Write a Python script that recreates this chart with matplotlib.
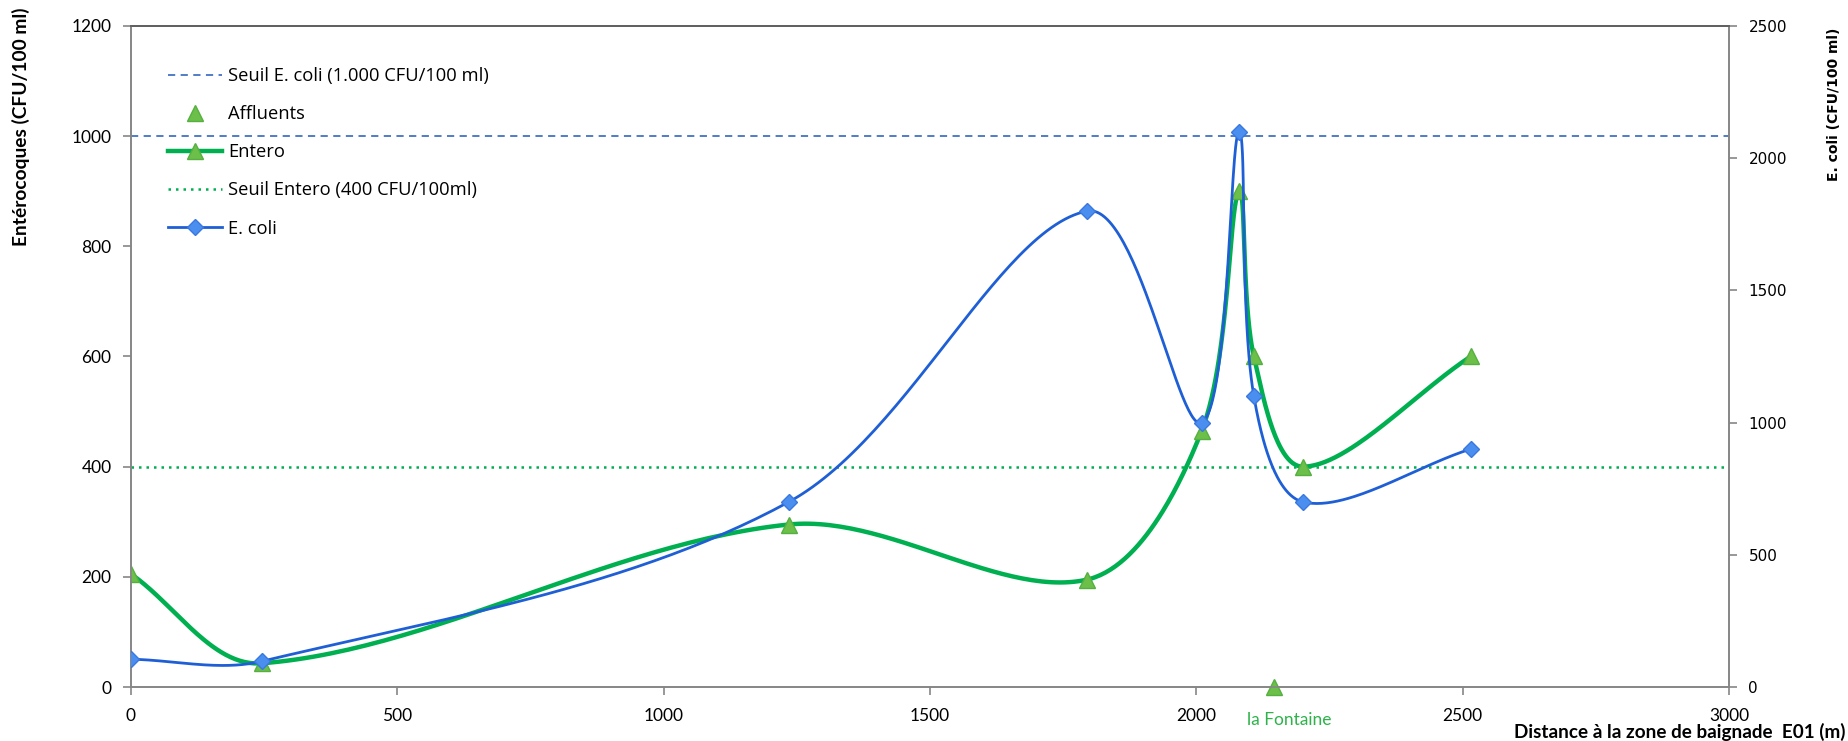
import numpy as np
import matplotlib.pyplot as plt
from matplotlib.lines import Line2D

# Data
distance = [0, 245, 1235, 1795, 2010, 2080, 2108, 2200, 2515]
entero = [205, 43, 295, 195, 465, 900, 600, 400, 600]
ecoli = [105, 97, 700, 1800, 1000, 2100, 1100, 700, 900]

affluent_x = [2145]
affluent_y = [0]
affluent_name = ["la Fontaine"]

seuil_ecoli = 1000   # drawn on left axis, as in the original
seuil_entero = 400

x_ticks = [0, 500, 1000, 1500, 2000, 2500, 3000]
left_ticks = [0, 200, 400, 600, 800, 1000, 1200]
right_ticks = [0, 500, 1000, 1500, 2000, 2500]

GREEN = "#00B050"
GREEN_FILL = "#6CC04A"
BLUE = "#1F5FD6"
BLUE_FILL = "#4A8FF0"
DASH_BLUE = "#4472C4"
AXIS_GREY = "#868686"


def smooth(x, y, sx, sy, n=60):
    # Bezier smoothing like a spreadsheet "smoothed line", tangents weighted by
    # segment length in screen space
    p = np.column_stack([np.asarray(x, float) * sx, np.asarray(y, float) * sy])
    out = []
    m = len(p)
    t = np.linspace(0, 1, n)[:, None]
    for i in range(m - 1):
        p0 = p[i - 1] if i > 0 else p[i]
        p1, p2 = p[i], p[i + 1]
        p3 = p[i + 2] if i + 2 < m else p[i + 1]
        d01 = np.hypot(*(p1 - p0))
        d12 = np.hypot(*(p2 - p1))
        d23 = np.hypot(*(p3 - p2))
        c1 = p1 + (p2 - p0) * d12 / (3 * (d01 + d12))
        c2 = p2 - (p3 - p1) * d12 / (3 * (d12 + d23))
        seg = (1 - t) ** 3 * p1 + 3 * (1 - t) ** 2 * t * c1 + 3 * (1 - t) * t ** 2 * c2 + t ** 3 * p2
        out.append(seg if i == 0 else seg[1:])
    s = np.vstack(out)
    return s[:, 0] / sx, s[:, 1] / sy


fig = plt.figure(figsize=(18.49, 7.41), dpi=100)
W, H = 1849, 741
ax = fig.add_axes([131 / W, 1 - 687 / H, 1598 / W, 661 / H])
ax2 = ax.twinx()

# pixels per data unit, for smoothing in screen space
sx = 1598 / 3000
sy_left = 661 / 1200
sy_right = 661 / 2500

ax.set_xlim(0, 3000)
ax.set_ylim(0, 1200)
ax2.set_ylim(0, 2500)

# thresholds
ax.axhline(seuil_ecoli, color=DASH_BLUE, lw=1.3, ls=(0, (4, 3)), zorder=1)
ax.axhline(seuil_entero, color=GREEN, lw=1.8, ls=(0, (1, 2)), zorder=1)

# Entero
ex, ey = smooth(distance, entero, sx, sy_left)
ax.plot(ex, ey, color=GREEN, lw=3.2, solid_capstyle="round", zorder=3)
ax.plot(distance, entero, ls="none", marker="^", ms=11, mfc=GREEN_FILL, mec="#55B040", mew=1, zorder=4)

# Affluents
ax.plot(affluent_x, affluent_y, ls="none", marker="^", ms=11, mfc=GREEN_FILL, mec="#55B040", mew=1,
        clip_on=False, zorder=5)
for xa, name in zip(affluent_x, affluent_name):
    ax.text(xa + 30, -0.05 * 1200, name, color="#2DB34A", fontsize=12.5, family="Lato",
            ha="center", va="center")

# E. coli
cx, cy = smooth(distance, ecoli, sx, sy_right)
ax2.plot(cx, cy, color=BLUE, lw=2.0, zorder=3)
ax2.plot(distance, ecoli, ls="none", marker="D", ms=8.5, mfc=BLUE_FILL, mec="#3A78E0", mew=1, zorder=4)

# axes styling
for a in (ax, ax2):
    for s in ["left", "right", "bottom"]:
        a.spines[s].set_color(AXIS_GREY)
        a.spines[s].set_linewidth(1.2)
    a.spines["top"].set_color("#606060")
    a.spines["top"].set_linewidth(1.3)

ax.set_xticks(x_ticks)
ax.set_xticklabels([str(v) for v in x_ticks])
ax.set_yticks(left_ticks)
ax.set_yticklabels([str(v) for v in left_ticks])
ax2.set_yticks(right_ticks)
ax2.set_yticklabels([str(v) for v in right_ticks])

ax.tick_params(axis="both", direction="out", length=6, width=1.2, color=AXIS_GREY,
               labelsize=12.5, pad=8)
ax.tick_params(axis="x", pad=9)
for lab in ax.get_xticklabels() + ax.get_yticklabels():
    lab.set_family("Lato")
ax2.tick_params(axis="y", direction="out", length=6, width=1.2, color=AXIS_GREY,
                labelsize=11, pad=8)
for lab in ax2.get_yticklabels():
    lab.set_family("DejaVu Sans")

# axis titles
fig.text(21 / W, 1 - 8 / H, "Entérocoques (CFU/100 ml)", rotation=90, fontsize=13.8,
         fontweight="bold", family="Lato", ha="center", va="top")
fig.text(1834 / W, 1 - 28 / H, "E. coli (CFU/100 ml)", rotation=90, fontsize=10,
         fontweight="bold", family="DejaVu Sans", ha="center", va="top")
fig.text(1846 / W, 1 - 732 / H, "Distance à la zone de baignade  E01 (m)", fontsize=13.6,
         fontweight="bold", family="Lato", ha="right", va="center")

# legend
handles = [
    Line2D([], [], color=DASH_BLUE, lw=1.3, ls=(0, (4, 3))),
    Line2D([], [], ls="none", marker="^", ms=11, mfc=GREEN_FILL, mec="#55B040"),
    Line2D([], [], color=GREEN, lw=3.2, marker="^", ms=11, mfc=GREEN_FILL, mec="#55B040"),
    Line2D([], [], color=GREEN, lw=1.8, ls=(0, (1, 2))),
    Line2D([], [], color=BLUE, lw=2.0, marker="D", ms=8.5, mfc=BLUE_FILL, mec="#3A78E0"),
]
labels = ["Seuil E. coli (1.000 CFU/100 ml)", "Affluents", "Entero",
          "Seuil Entero (400 CFU/100ml)", "E. coli"]
leg = ax2.legend(handles, labels, loc="upper left", bbox_to_anchor=(168 / W, 1 - 67 / H),
                 bbox_transform=fig.transFigure, frameon=False, borderpad=0, borderaxespad=0,
                 handlelength=2.95, handletextpad=0.34, labelspacing=1.1,
                 prop={"family": "Open Sans", "size": 13.2})

fig.savefig("out.png", dpi=100)
